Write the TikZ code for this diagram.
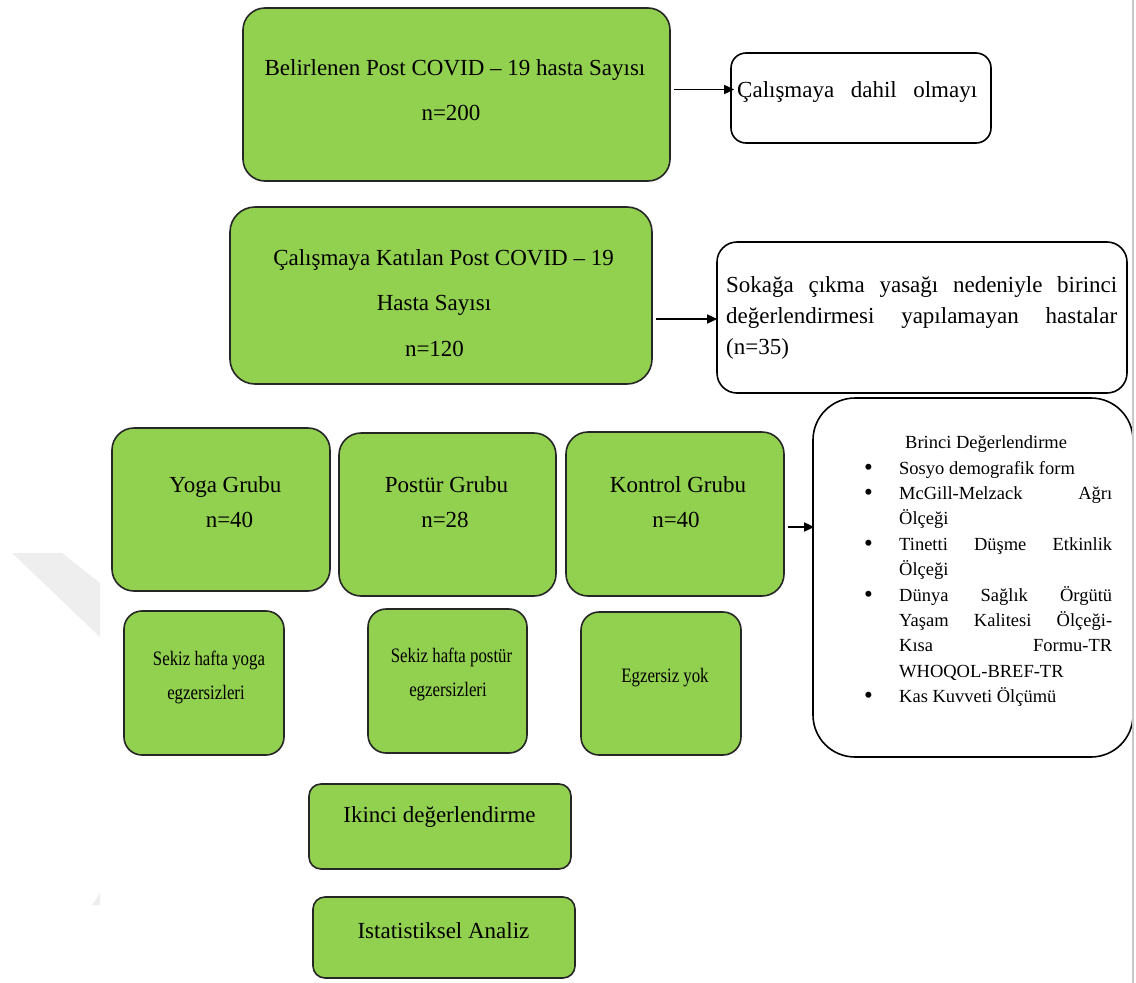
\documentclass[tikz,border=0pt]{standalone}
\usepackage{fontspec}
\setmainfont{Liberation Serif}
\newfontfamily\condserif{Liberation Serif}[FakeStretch=0.82]
\usetikzlibrary{arrows.meta}
\definecolor{boxgreen}{HTML}{92D050}
\definecolor{edgegray}{HTML}{262626}
\definecolor{wmgray}{HTML}{EEEEEE}
\definecolor{pagegray}{HTML}{C8C8C8}
\newcommand{\bigbul}{\makebox[35pt][l]{\raisebox{-1pt}{\fontsize{25}{25}\selectfont •}}}
\begin{document}
\begin{tikzpicture}[x=1pt,y=-1pt,
  gbox/.style={draw=edgegray, line width=1.6pt, fill=boxgreen, rounded corners=#1, inner sep=0pt},
  gbox/.default=20pt,
  wbox/.style={draw=black, line width=1.6pt, fill=white, rounded corners=#1, inner sep=0pt},
  wbox/.default=16pt,
  tline/.style={anchor=base, inner sep=0pt, font=\fontsize{23}{27}\selectfont},
  tleft/.style={anchor=base west, inner sep=0pt, font=\fontsize{23}{27}\selectfont},
  sline/.style={anchor=base, inner sep=0pt, font={\condserif\fontsize{20.5}{33}\selectfont}},
  arr/.style={line width=1.4pt, -{Triangle[length=10pt,width=9pt]}}
]
\useasboundingbox (0,0) rectangle (1136,983);
\fill[white] (0,0) rectangle (1136,983);
% watermark traces
\fill[wmgray] (12,553) -- (62,553) -- (100,583) -- (100,637) -- cycle;
\fill[wmgray] (100,893) -- (100,905) -- (92,905) -- cycle;

% boxes
\node[gbox=22pt, minimum width=427pt, minimum height=173pt] (a) at (456.5,94.5) {};
\node[wbox=15pt, minimum width=260pt, minimum height=90pt] (b) at (861,98) {};
\node[gbox=25pt, minimum width=422pt, minimum height=177pt] (c) at (441,295.5) {};
\node[wbox=20pt, minimum width=410pt, minimum height=151pt] (d) at (922,317.5) {};
\node[gbox=22pt, minimum width=218pt, minimum height=163pt] (yoga) at (221,509.5) {};
\node[gbox=22pt, minimum width=217pt, minimum height=163pt] (postur) at (447.5,514.5) {};
\node[gbox=22pt, minimum width=218pt, minimum height=164pt] (kontrol) at (675,514) {};
\node[wbox=42pt, minimum width=320pt, minimum height=359pt] (brinci) at (973,577.5) {};
\node[gbox=18pt, minimum width=160pt, minimum height=144pt] (sy) at (204,683) {};
\node[gbox=18pt, minimum width=159pt, minimum height=144pt] (sp) at (447.5,681) {};
\node[gbox=18pt, minimum width=160pt, minimum height=143pt] (sk) at (661,683.5) {};
\node[gbox=12pt, minimum width=262pt, minimum height=85pt] (ikinci) at (440,826.5) {};
\node[gbox=12pt, minimum width=262pt, minimum height=81pt] (istat) at (444,937.5) {};

% texts
\node[tline] (a1) at (455,75) {Belirlenen Post COVID – 19 hasta Sayısı};
\node[tline] (a2) at (451,120) {n=200};
\node[tleft] (b1) at (737,97) {\hbox to 240pt{Çalışmaya\hfill dahil\hfill olmayı}};
\node[tline] (c1) at (443.5,265) {Çalışmaya Katılan Post COVID – 19};
\node[tline] (c2) at (434,310) {Hasta Sayısı};
\node[tline] (c3) at (434.5,356) {n=120};
\node[tleft] (d1) at (726,292) {\hbox to 391pt{Sokağa\hfill çıkma\hfill yasağı\hfill nedeniyle\hfill birinci}};
\node[tleft] (d2) at (726,323) {\hbox to 391pt{değerlendirmesi\hfill yapılamayan\hfill hastalar}};
\node[tleft] (d3) at (726,354) {(n=35)};
\node[tline] (y1) at (225.5,492) {Yoga Grubu};
\node[tline] (y2) at (229.5,527) {n=40};
\node[tline] (p1) at (446.5,492) {Postür Grubu};
\node[tline] (p2) at (445,527) {n=28};
\node[tline] (k1) at (678,492) {Kontrol Grubu};
\node[tline] (k2) at (676,527) {n=40};
\node[sline] (sy1) at (209,665.5) {Sekiz hafta yoga};
\node[sline] (sy2) at (206,699) {egzersizleri};
\node[sline] (sp1) at (451.5,662) {Sekiz hafta postür};
\node[sline] (sp2) at (448,696) {egzersizleri};
\node[sline] (sk1) at (665,682) {Egzersiz yok};
\node[tline] (ik1) at (439.5,822) {Ikinci değerlendirme};
\node[tline] (is1) at (443.5,938) {Istatistiksel Analiz};
\node[anchor=base west, inner sep=0pt, font=\fontsize{18.5}{25.4}\selectfont] (br0) at (905,448.5) {Brinci Değerlendirme};
\node[anchor=base west, inner sep=0pt, font=\fontsize{18.5}{25.4}\selectfont] (br1) at (864,474)
 {\parbox[t]{250pt}{%
 \bigbul Sosyo demografik form\\
 \bigbul\hbox to 213pt{McGill-Melzack\hfill Ağrı}\\
 \hspace*{35pt}Ölçeği\\
 \bigbul\hbox to 213pt{Tinetti\hfill Düşme\hfill Etkinlik}\\
 \hspace*{35pt}Ölçeği\\
 \bigbul\hbox to 213pt{Dünya\hfill Sağlık\hfill Örgütü}\\
 \hspace*{35pt}\hbox to 213pt{Yaşam\hfill Kalitesi\hfill Ölçeği-}\\
 \hspace*{35pt}\hbox to 213pt{Kısa\hfill Formu-TR}\\
 \hspace*{35pt}WHOQOL-BREF-TR\\
 \bigbul Kas Kuvveti Ölçümü}};

% connectors
\draw[arr] ([xshift=3pt,yshift=5pt]a.east) -- ([xshift=4pt,yshift=8.5pt]b.west);
\draw[arr] ([xshift=3pt,yshift=-23.5pt]c.east) -- ([xshift=1pt,yshift=-1.5pt]d.west);
\draw[arr] ([xshift=3pt,yshift=-13pt]kontrol.east) -- ([xshift=2pt,yshift=50.5pt]brinci.west);

% page edge
\draw[pagegray, line width=2pt] (1133,0) -- (1133,983);
\end{tikzpicture}
\end{document}
